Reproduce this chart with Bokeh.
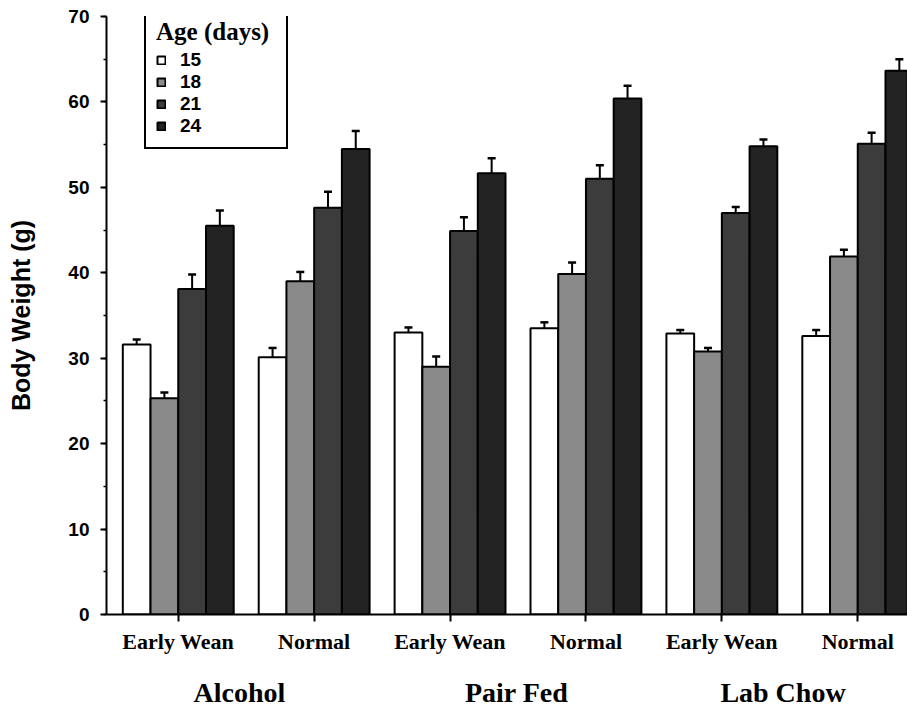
from bokeh.plotting import figure
from bokeh.models import (ColumnDataSource, Range1d, FixedTicker, SingleIntervalTicker,
                          LinearAxis, Whisker, TeeHead, Legend, LegendItem)
from bokeh.transform import dodge
from bokeh.embed import file_html
from bokeh.resources import INLINE

# ---- data ----
subgroups = ["Early Wean", "Normal", "Early Wean", "Normal", "Early Wean", "Normal"]
groups = ["Alcohol", "Pair Fed", "Lab Chow"]
ages = ["15", "18", "21", "24"]

day15 = [31.6, 30.1, 33.0, 33.5, 32.9, 32.6]
day18 = [25.3, 39.0, 29.0, 39.85, 30.8, 41.9]
day21 = [38.1, 47.6, 44.9, 51.0, 47.0, 55.1]
day24 = [45.5, 54.5, 51.65, 60.4, 54.8, 63.65]

err15 = [0.6, 1.1, 0.6, 0.7, 0.4, 0.7]
err18 = [0.7, 1.1, 1.2, 1.35, 0.4, 0.8]
err21 = [1.7, 1.9, 1.6, 1.6, 0.7, 1.3]
err24 = [1.8, 2.1, 1.75, 1.5, 0.8, 1.35]

# ---- styling ----
colors = ["#ffffff", "#8a8a8a", "#3c3c3c", "#232323"]
bar_w = 0.204
sans = "Liberation Sans"
serif = "Liberation Serif"

xpos = list(range(len(subgroups)))
means = [day15, day18, day21, day24]
errs = [err15, err18, err21, err24]

p = figure(frame_width=801, frame_height=598, min_border_left=106, min_border_right=0,
           min_border_top=16, min_border_bottom=95,
           x_range=Range1d(-0.528, 5.366), y_range=Range1d(0, 70),
           output_backend="svg", toolbar_location=None, tools="")
p.xgrid.visible = False
p.ygrid.visible = False
p.outline_line_color = None
p.background_fill_color = "white"

items = []
for k, age in enumerate(ages):
    off = (k - 1.5) * bar_w
    src = ColumnDataSource(dict(x=xpos, top=means[k],
                                hi=[m + e for m, e in zip(means[k], errs[k])]))
    r = p.vbar(x=dodge("x", off, range=p.x_range), top="top", bottom=0, width=bar_w,
               source=src, fill_color=colors[k], line_color="black", line_width=2)
    w = Whisker(base=dodge("x", off, range=p.x_range), lower="top", upper="hi", source=src,
                lower_head=None, upper_head=TeeHead(size=8, line_width=2.5, line_color="black"),
                line_width=2, line_color="black")
    p.add_layout(w)
    items.append(LegendItem(label=age, renderers=[r]))

# y axis
ya = p.yaxis[0]
ya.ticker = SingleIntervalTicker(interval=10, num_minor_ticks=2)
ya.axis_label = "Body Weight (g)"
ya.axis_label_text_font = sans
ya.axis_label_text_font_style = "bold"
ya.axis_label_text_font_size = "25px"
ya.axis_label_text_color = "black"
ya.axis_label_standoff = 30
ya.major_label_text_font = sans
ya.major_label_text_font_style = "bold"
ya.major_label_text_font_size = "19px"
ya.major_label_text_color = "black"
ya.major_label_standoff = 11
ya.axis_line_width = 2
ya.major_tick_line_width = 2
ya.minor_tick_line_width = 1.5
ya.major_tick_in = 0
ya.major_tick_out = 6
ya.minor_tick_in = 0
ya.minor_tick_out = 3

# x axis (sub-groups)
xa = p.xaxis[0]
xa.ticker = FixedTicker(ticks=xpos)
xa.major_label_overrides = {i: s for i, s in zip(xpos, subgroups)}
xa.major_label_text_font = serif
xa.major_label_text_font_style = "bold"
xa.major_label_text_font_size = "22px"
xa.major_label_text_color = "black"
xa.major_label_standoff = 7
xa.axis_line_width = 2
xa.major_tick_line_width = 2
xa.major_tick_in = 0
xa.major_tick_out = 7
xa.minor_tick_line_color = None

# x axis (groups)
group_pos = [0.45, 2.49, 4.45]
ga = LinearAxis(ticker=FixedTicker(ticks=group_pos),
                major_label_overrides={g: s for g, s in zip(group_pos, groups)})
ga.axis_line_color = None
ga.major_tick_line_color = None
ga.minor_tick_line_color = None
ga.major_label_text_font = serif
ga.major_label_text_font_style = "bold"
ga.major_label_text_font_size = "28px"
ga.major_label_text_color = "black"
ga.major_label_standoff = 14
p.add_layout(ga, "below")

legend = Legend(items=items, location=(38, 465), title="Age (days)",
                title_text_font=serif, title_text_font_style="bold", title_text_font_size="25px",
                title_text_color="black", title_standoff=3,
                label_text_font=sans, label_text_font_style="bold", label_text_font_size="19px",
                label_text_color="black",
                glyph_width=10, glyph_height=10, label_standoff=14, label_height=18,
                label_width=96, spacing=0, padding=10, margin=0,
                border_line_color="black", border_line_width=2, border_line_alpha=1,
                background_fill_alpha=1)
p.add_layout(legend, "center")

open("out.html", "w").write(file_html(p, INLINE))
